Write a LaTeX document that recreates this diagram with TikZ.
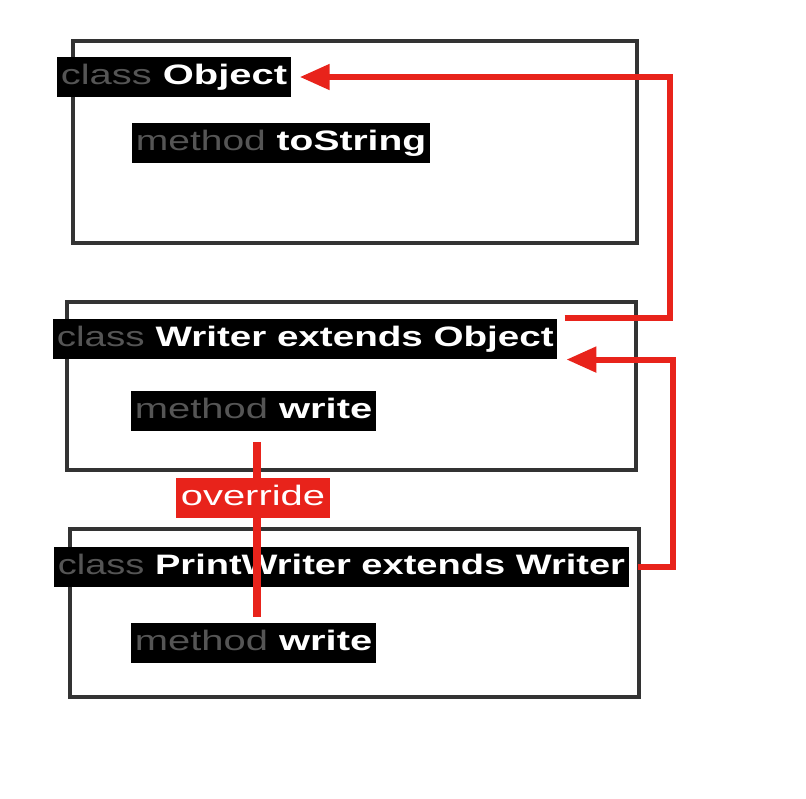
\documentclass[tikz,border=0pt]{standalone}
\usepackage{fontspec}
\usepackage{graphicx}
\usetikzlibrary{arrows.meta}
\newfontfamily\lblfont{Liberation Sans}
% keyword in gray, name in bold white, stretched like the original
\newcommand{\kwname}[3][1.42]{\scalebox{#1}[1]{\textcolor{kwgray}{#2} \textcolor{white}{\bfseries #3}}}

\begin{document}
\begin{tikzpicture}[x=0.02cm, y=-0.02cm,
  lblbox/.style={fill=black, anchor=west, inner xsep=2pt, inner ysep=4pt,
    text height=11.8pt, text depth=3.2pt, font=\lblfont\fontsize{16}{18}\selectfont},
  boxframe/.style={draw=black!80, line width=2pt},
  link/.style={draw=linkred, line width=3.4pt, -{Triangle[length=17pt,width=14pt]}},
  overline/.style={draw=linkred, line width=4.5pt}]
% Define colors
\definecolor{kwgray}{RGB}{85, 85, 85}
\definecolor{linkred}{RGB}{232, 35, 27}

\useasboundingbox (0, 0) rectangle (806, 799);

% Class boxes
\draw[boxframe] (73, 41) rectangle (637, 243);
\draw[boxframe] (67, 302) rectangle (636, 470);
\draw[boxframe] (70, 529) rectangle (639, 697);

% Class and method labels
\node[lblbox] (obj) at (57, 77) {\kwname{class}{Object}};
\node[lblbox] (ts) at (132, 143) {\kwname[1.387]{method}{toString}};
\node[lblbox] (wr) at (53, 339) {\kwname[1.373]{class}{Writer extends Object}};
\node[lblbox] (m2) at (131, 411) {\kwname{method}{write}};
\node[lblbox] (pw) at (54, 567) {\kwname[1.353]{class}{PrintWriter extends Writer}};
\node[lblbox] (m3) at (131, 643) {\kwname{method}{write}};

% Inheritance arrows
\draw[link, shorten <=4pt, shorten >=5pt] (wr.north east) -- ++(112, 0) |- (obj.east);
\draw[link, shorten <=5pt, shorten >=5pt] (pw.east) -- ++(44, 0) |- (wr.south east);

% Override
\draw[overline, shorten <=6pt, shorten >=3pt] ([xshift=2pt]m2.south) -- ([xshift=2pt]m3.north);
\node[fill=linkred, text=white, inner xsep=3pt, inner ysep=4pt, text height=11.8pt, text depth=3.2pt,
  font=\lblfont\fontsize{16}{18}\selectfont] (ov) at (253, 498) {\scalebox{1.42}[1]{override}};

\end{tikzpicture}
\end{document}
